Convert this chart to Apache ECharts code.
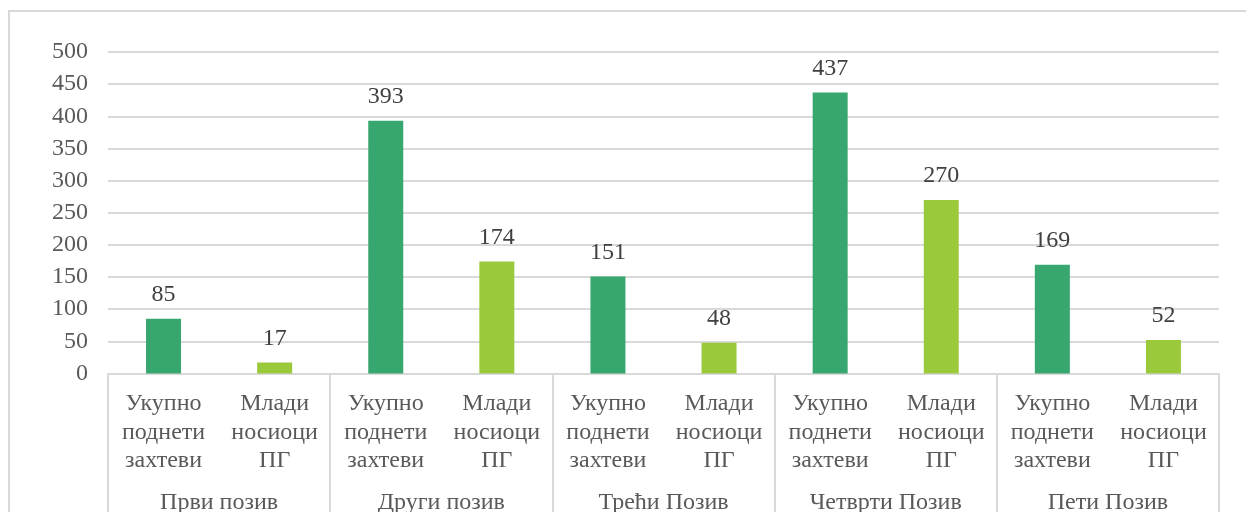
<!DOCTYPE html>
<html>
<head>
<meta charset="utf-8">
<script src="https://cdn.jsdelivr.net/npm/echarts@6/dist/echarts.min.js"></script>
<style>
  html, body { margin: 0; padding: 0; background: #fff; }
  #chart { width: 1246px; height: 512px; }
</style>
</head>
<body>
<div id="chart"></div>
<script>
// Calls (outer category level)
const groups = ['Први позив', 'Други позив', 'Трећи Позив', 'Четврти Позив', 'Пети Позив'];
// Sub-categories within each call
const subLabels = ['Укупно\nподнети\nзахтеви', 'Млади\nносиоци\nПГ'];
// Values: total submitted requests and young holders per call
const totalRequests = [85, 393, 151, 437, 169];
const youngHolders = [17, 174, 48, 270, 52];
const yTicks = { min: 0, max: 500, interval: 50 };

const darkGreen = '#37A66F';
const lightGreen = '#9ACA3C';
const textColor = '#595959';
const lineColor = '#D9D9D9';
const fontFamily = "'Liberation Serif', 'Times New Roman', serif";

// Flatten into one bar per sub-category
const categories = [];
const values = [];
groups.forEach((g, i) => {
  categories.push(subLabels[0]);
  values.push({ value: totalRequests[i], itemStyle: { color: darkGreen } });
  categories.push(subLabels[1]);
  values.push({ value: youngHolders[i], itemStyle: { color: lightGreen } });
});

const chart = echarts.init(document.getElementById('chart'), null, { renderer: 'canvas' });
chart.setOption({
  animation: false,
  backgroundColor: '#fff',
  textStyle: { fontFamily: fontFamily },
  graphic: [{
    type: 'rect',
    shape: { x: 9, y: 11, width: 1250, height: 520 },
    style: { fill: 'none', stroke: lineColor, lineWidth: 2 },
    silent: true
  }],
  grid: {
    left: 108, right: 27, top: 52, bottom: 138.5,
    containLabel: false,
    outerBoundsMode: 'none'
  },
  xAxis: [{
    type: 'category',
    data: categories,
    position: 'bottom',
    axisLine: { show: true, lineStyle: { color: lineColor, width: 2 } },
    axisTick: { show: false },
    axisLabel: {
      interval: 0,
      margin: 16,
      color: textColor,
      fontSize: 24,
      lineHeight: 28.5,
      fontFamily: fontFamily
    }
  }, {
    type: 'category',
    data: groups,
    position: 'bottom',
    axisLine: { show: false },
    axisTick: { show: true, length: 150, lineStyle: { color: lineColor, width: 2 } },
    axisLabel: {
      interval: 0,
      margin: 115,
      color: textColor,
      fontSize: 24,
      lineHeight: 28,
      fontFamily: fontFamily
    }
  }],
  yAxis: {
    type: 'value',
    min: yTicks.min,
    max: yTicks.max,
    interval: yTicks.interval,
    axisLine: { show: false },
    axisTick: { show: false },
    splitLine: { lineStyle: { color: lineColor, width: 2 } },
    axisLabel: { color: textColor, fontSize: 24, margin: 20, fontFamily: fontFamily }
  },
  series: [{
    type: 'bar',
    xAxisIndex: 0,
    data: values,
    barWidth: 35,
    label: {
      show: true,
      position: 'top',
      distance: 12,
      color: '#404040',
      fontSize: 24,
      fontFamily: fontFamily
    }
  }]
});
</script>
</body>
</html>
